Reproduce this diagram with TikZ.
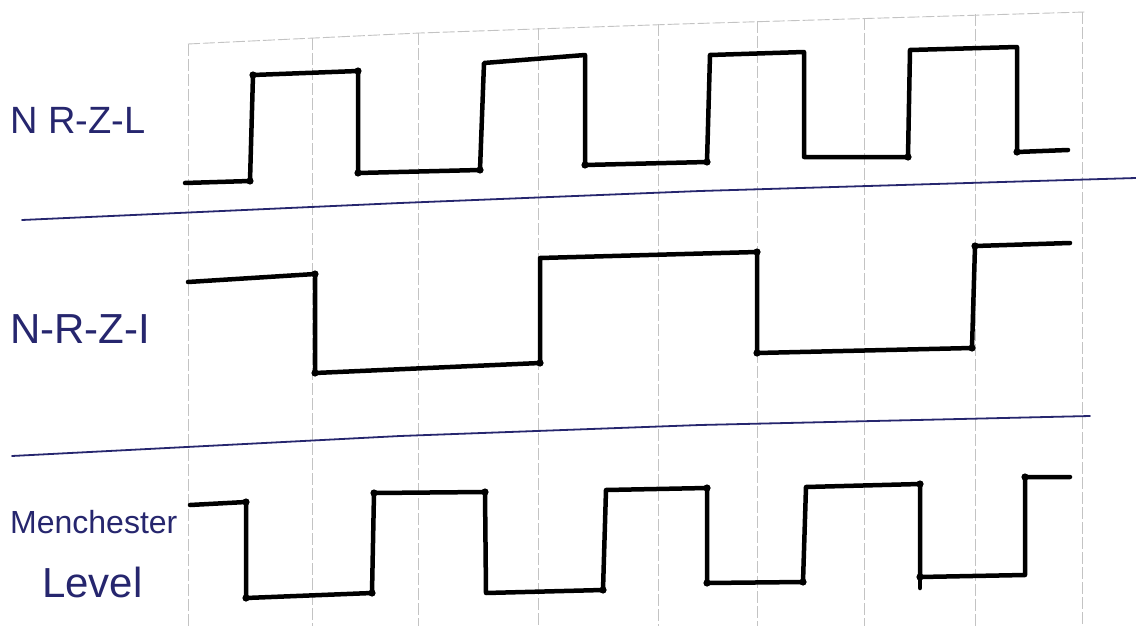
\documentclass[tikz,border=0pt]{standalone}
\usepackage{fontspec}
\setmainfont{Liberation Sans}
\definecolor{ink}{RGB}{38,38,110}
\definecolor{gridc}{RGB}{195,195,195}
\begin{document}
\begin{tikzpicture}[x=1pt,y=-1pt,
  wave/.style={line width=4.5pt, line join=round, line cap=round, black},
  gridline/.style={gridc, line width=0.9pt, dash pattern=on 12pt off 3pt},
  rulerline/.style={ink, line width=1.8pt, line cap=round},
  lbl/.style={ink, anchor=base west, inner sep=0pt}]
\fill[white] (0,0) rectangle (1136,626);
\useasboundingbox (0,0) rectangle (1136,626);

% faint grid
\draw[gridline] (188,44) -- (420,33) -- (680,24) -- (1085,12);
\foreach \x/\t in {188/44, 312/38, 418/33, 538/28, 658/24, 757/21, 864/18, 975/14, 1082/12}
  \draw[gridline] (\x,\t) -- (\x,626);

% separating rules
\draw[rulerline] (22,220) -- (400,203) -- (700,191) -- (1136,178);
\draw[rulerline] (12,456) -- (400,436) -- (700,425) -- (1090,416);

% labels
\node[lbl, font=\fontsize{38}{40}\selectfont] (nrzl) at (10,133) {N R-Z-L};
\node[lbl, font=\fontsize{42}{44}\selectfont] (nrzi) at (10,343) {N-R-Z-I};
\node[lbl, font=\fontsize{32}{34}\selectfont] (manch) at (10,533) {Menchester};
\node[lbl, font=\fontsize{42}{44}\selectfont] (level) at (42,597) {Level};

% NRZ-L
\draw[wave] (185,183) -- (250,181) -- (253,75) -- (358,71) -- (358,173) -- (480,170)
  -- (484,63) -- (585,55) -- (585,165) -- (707,162) -- (710,55) -- (804,52)
  -- (804,157) -- (908,157) -- (910,50) -- (1017,47) -- (1017,152) -- (1068,150);
\foreach \p in {(250,181),(253,75),(358,71),(358,173),(480,170),(585,165),(707,162),(908,157),(1017,152)}
  \fill \p circle (3.6);

% NRZ-I
\draw[wave] (188,282) -- (315,274) -- (315,373) -- (540,363) -- (540,258) -- (757,252)
  -- (757,353) -- (972,348) -- (975,246) -- (1070,243);
\foreach \p in {(315,274),(315,373),(540,363),(757,252),(757,353),(972,348),(975,246)}
  \fill \p circle (3.6);

% Manchester
\draw[wave] (190,505) -- (246,502) -- (246,598) -- (372,593) -- (374,493) -- (485,492)
  -- (486,593) -- (603,590) -- (606,490) -- (707,488) -- (707,583) -- (803,582)
  -- (806,487) -- (920,484) -- (920,577) -- (1025,575) -- (1025,477) -- (1070,477);
\draw[wave] (920,577) -- (920,588);
\foreach \p in {(246,502),(246,598),(372,593),(374,493),(485,492),(603,590),(707,488),(707,583),(803,582),(920,484),(920,577),(1025,477)}
  \fill \p circle (3.6);
\end{tikzpicture}
\end{document}
